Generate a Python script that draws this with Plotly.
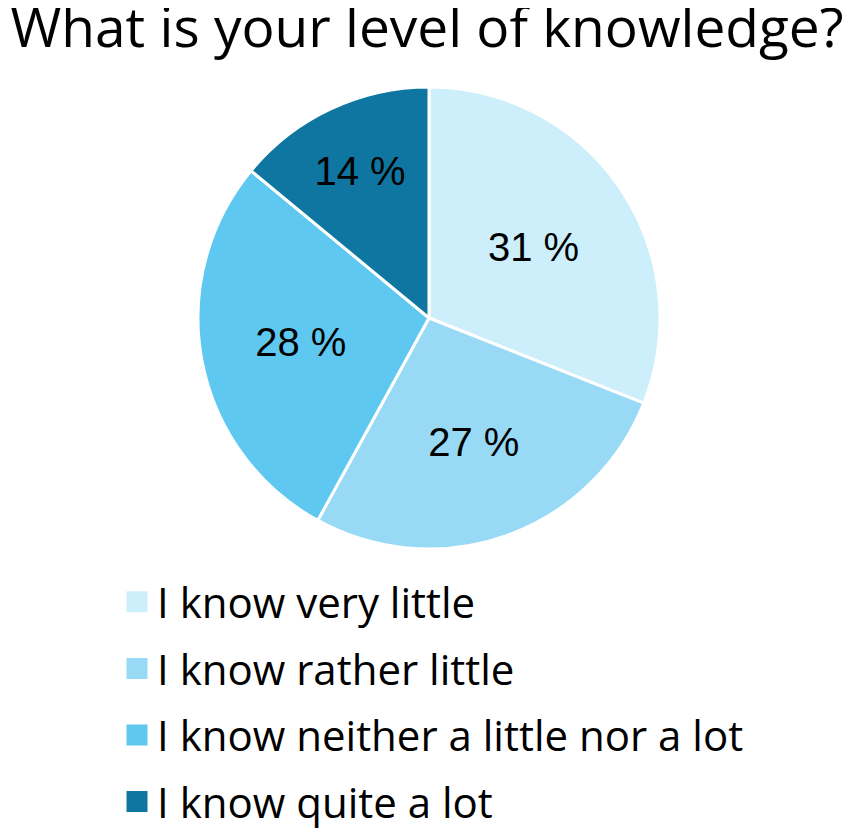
import plotly.graph_objects as go

categories = ["I know very little", "I know rather little",
              "I know neither a little nor a lot", "I know quite a lot"]
values = [31, 27, 28, 14]
colors = ["#CDEEFB", "#98DAF5", "#5FC8F0", "#0E76A0"]

W, H = 851, 835
cx, cy, r = 421, 310, 231

fig = go.Figure(go.Pie(
    labels=categories,
    values=values,
    sort=False,
    direction="clockwise",
    rotation=0,
    marker=dict(colors=colors, line=dict(color="white", width=3)),
    texttemplate="%{value} %",
    textposition="inside",
    insidetextorientation="horizontal",
    textfont=dict(family="Liberation Sans, Arial, sans-serif", size=40, color="black"),
    hoverinfo="label+percent",
    showlegend=False,
    domain=dict(x=[(cx - r) / W, (cx + r) / W], y=[(H - cy - r) / H, (H - cy + r) / H]),
))

# legend entries with large square symbols
for name, col in zip(categories, colors):
    fig.add_trace(go.Scatter(
        x=[None], y=[None], mode="markers", name=name, legendgroup=name,
        marker=dict(symbol="square", size=16, color=col, line=dict(color=col, width=5)),
        showlegend=True, hoverinfo="skip",
    ))

fig.update_layout(
    width=W, height=H,
    margin=dict(l=0, r=0, t=0, b=0),
    paper_bgcolor="white",
    plot_bgcolor="white",
    xaxis=dict(visible=False),
    yaxis=dict(visible=False),
    title=dict(text="What is your level of knowledge?", x=0.003, xanchor="left",
               y=0.999, yanchor="top", pad=dict(t=0, l=0),
               font=dict(family="Open Sans, sans-serif", size=55, color="black")),
    showlegend=True,
    legend=dict(x=109 / W, xanchor="left", y=1 - 560 / H, yanchor="top",
                font=dict(family="Open Sans, sans-serif", size=42, color="black"),
                tracegroupgap=9, itemsizing="trace", bgcolor="rgba(0,0,0,0)"),
)

fig.write_html("out.html")
